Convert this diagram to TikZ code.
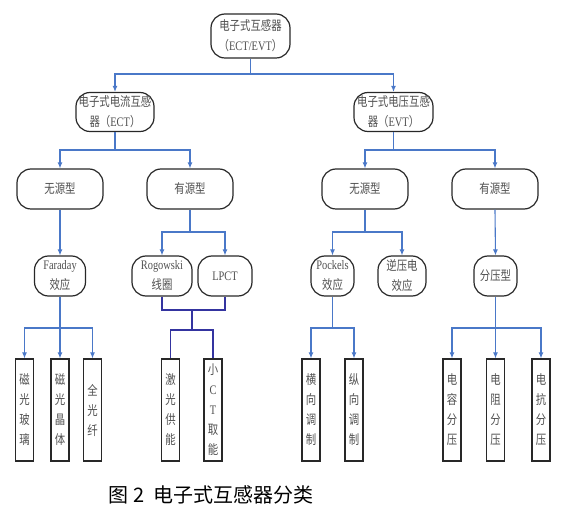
\documentclass[tikz,border=0pt]{standalone}
\usepackage{fontspec}
\setmainfont[FakeStretch=0.8]{Liberation Serif}
\newfontfamily\cjk[FakeStretch=0.8]{Noto Sans CJK SC}
\newfontfamily\capfont{Noto Sans CJK SC}
\usetikzlibrary{arrows.meta}

\begin{document}
\begin{tikzpicture}[x=1pt,y=1pt,
  box/.style={draw=boxColor,line width=1.2pt,rounded corners=14pt,inner sep=0pt,
    text=textColor,align=center,font=\cjk\fontsize{13}{20}\selectfont},
  leaf/.style={draw=boxColor,line width=1.2pt,inner sep=0pt,minimum width=18,minimum height=102,
    text=textColor,align=center,font=\cjk\fontsize{13}{20}\selectfont},
  link/.style={draw=linkColor,line width=1.1pt},
  arr/.style={link,-{Latex[length=6pt,width=5pt]}},
  merge/.style={draw=mergeColor,line width=1.1pt}]
\definecolor{boxColor}{RGB}{40,40,40}
\definecolor{textColor}{RGB}{80,80,80}
\definecolor{linkColor}{RGB}{74,120,200}
\definecolor{mergeColor}{RGB}{52,52,160}
\path[use as bounding box,fill=white] (0,0) rectangle (571,512);

% top two levels
\node[box,minimum width=79,minimum height=44] (root) at (250.5,476) {电子式互感器\\（{\rmfamily ECT/EVT}）};
\node[box,minimum width=78,minimum height=39] (ect) at (115.0,400) {电子式电流互感\\器（{\rmfamily ECT}）};
\node[box,minimum width=79,minimum height=39] (evt) at (393.5,400) {电子式电压互感\\器（{\rmfamily EVT}）};

% passive / active
\node[box,minimum width=86,minimum height=40] (pasA) at ( 60.0,323) {无源型};
\node[box,minimum width=86,minimum height=40] (actA) at (190.0,323) {有源型};
\node[box,minimum width=86,minimum height=40] (pasV) at (365.0,323) {无源型};
\node[box,minimum width=86,minimum height=40] (actV) at (495.0,323) {有源型};

% principles
\node[box,minimum width=51,minimum height=40] (faraday) at ( 60.0,236) {{\rmfamily Faraday}\\效应};
\node[box,minimum width=60,minimum height=40] (rogowski) at (162.0,236) {{\rmfamily Rogowski}\\线圈};
\node[box,minimum width=54,minimum height=40] (lpct) at (225.0,236) {{\rmfamily LPCT}};
\node[box,minimum width=43,minimum height=40] (pockels) at (332.5,236) {{\rmfamily Pockels}\\效应};
\node[box,minimum width=48,minimum height=40] (piezo) at (402.0,236) {逆压电\\效应};
\node[box,minimum width=43,minimum height=40] (divider) at (495.5,236) {分压型};

% leaves
\node[leaf] (mgGlass) at ( 24.5,102) {磁\\光\\玻\\璃};
\node[leaf] (mgCrystal) at ( 60.0,102) {磁\\光\\晶\\体};
\node[leaf] (allFiber) at ( 92.5,102) {全\\光\\纤};
\node[leaf] (laser) at (170.5,102) {激\\光\\供\\能};
\node[leaf] (smallCT) at (213.0,102) {小\\{\rmfamily C}\\{\rmfamily T}\\取\\能};
\node[leaf] (transverse) at (311.0,102) {横\\向\\调\\制};
\node[leaf] (longitudinal) at (354.0,102) {纵\\向\\调\\制};
\node[leaf] (capacitive) at (452.0,102) {电\\容\\分\\压};
\node[leaf] (resistive) at (495.5,102) {电\\阻\\分\\压};
\node[leaf] (reactive) at (541.0,102) {电\\抗\\分\\压};

% junctions
\coordinate (jRoot) at (250.5,438);
\coordinate (jEct) at (115.0,362);
\coordinate (jEvt) at (393.5,362);
\coordinate (jActA) at (190.0,280);
\coordinate (jPasV) at (365.0,280);
\coordinate (jFaraday) at (60.0,184);
\coordinate (jPockels) at (332.5,184);
\coordinate (jDivider) at (495.5,184);
\coordinate (jCT) at (192.0,202);
\coordinate (jCTlow) at (192.0,182);

\draw[link] (root.south) -- (jRoot);
\draw[arr] (jRoot) -| (ect.north);
\draw[arr] (jRoot) -| (evt.north);

\draw[link] (ect.south) -- (jEct);
\draw[arr] (jEct) -| (pasA.north);
\draw[arr] (jEct) -| (actA.north);
\draw[link] (evt.south) -- (jEvt);
\draw[arr] (jEvt) -| (pasV.north);
\draw[arr] (jEvt) -| (actV.north);

\draw[arr] (pasA.south) -- (faraday.north);
\draw[link] (actA.south) -- (jActA);
\draw[arr] (jActA) -| (rogowski.north);
\draw[arr] (jActA) -| (lpct.north);
\draw[link] (pasV.south) -- (jPasV);
\draw[arr] (jPasV) -| (pockels.north);
\draw[arr] (jPasV) -| (piezo.north);
\draw[arr] (actV.south) -- (divider.north);

\draw[link] (faraday.south) -- (jFaraday);
\draw[arr] (jFaraday) -| (mgGlass.north);
\draw[arr] (jFaraday) -- (mgCrystal.north);
\draw[arr] (jFaraday) -| (allFiber.north);

\draw[merge] (rogowski.south) |- (jCT) -| (lpct.south);
\draw[merge] (jCT) -- (jCTlow);
\draw[merge] (jCTlow) -| (laser.north);
\draw[merge] (jCTlow) -| (smallCT.north);

\draw[link] (pockels.south) -- (jPockels);
\draw[arr] (jPockels) -| (transverse.north);
\draw[arr] (jPockels) -| (longitudinal.north);

\draw[link] (divider.south) -- (jDivider);
\draw[arr] (jDivider) -| (capacitive.north);
\draw[arr] (jDivider) -- (resistive.north);
\draw[arr] (jDivider) -| (reactive.north);

% caption
\node[font=\capfont\fontsize{20}{20}\selectfont,inner sep=0pt] (caption) at (211,17) {图 2\ \ 电子式互感器分类};
\end{tikzpicture}
\end{document}
